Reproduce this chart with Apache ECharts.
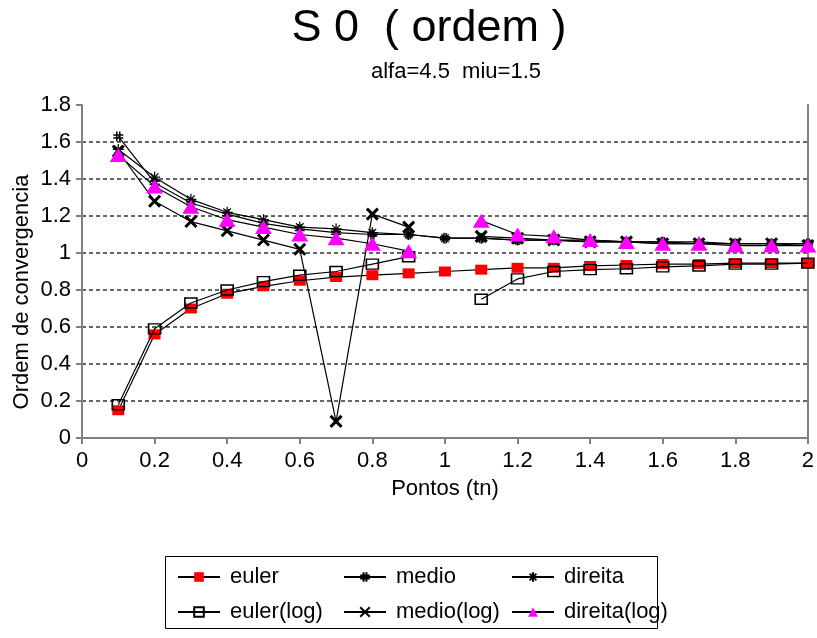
<!DOCTYPE html>
<html><head><meta charset="utf-8">
<script src="https://cdn.jsdelivr.net/npm/echarts@6/dist/echarts.min.js"></script>
<style>html,body{margin:0;padding:0;background:#fff}#c{width:817px;height:638px}</style>
</head><body><div id="c"></div>
<script>
const titleText = 'S 0  ( ordem )';
const subtitleText = 'alfa=4.5  miu=1.5';
const xName = 'Pontos (tn)';
const yName = 'Ordem de convergencia';
const xValues = [0.1,0.2,0.3,0.4,0.5,0.6,0.7,0.8,0.9,1.0,1.1,1.2,1.3,1.4,1.5,1.6,1.7,1.8,1.9,2.0];
const euler      = [0.15,0.56,0.70,0.78,0.82,0.85,0.87,0.88,0.89,0.90,0.91,0.92,0.92,0.93,0.935,0.94,0.94,0.945,0.945,0.945];
const medio      = [1.63,1.38,1.27,1.21,1.16,1.13,1.11,1.10,1.10,1.08,1.08,1.07,1.07,1.06,1.06,1.06,1.05,1.05,1.05,1.05];
const direita    = [1.56,1.41,1.29,1.22,1.18,1.14,1.13,1.11,1.10,1.08,1.08,1.07,1.07,1.07,1.06,1.06,1.06,1.05,1.05,1.05];
const eulerLog   = [0.18,0.59,0.73,0.80,0.845,0.88,0.90,0.94,0.98,null,0.75,0.86,0.90,0.91,0.915,0.925,0.93,0.94,0.94,0.945];
const medioLog   = [1.55,1.28,1.17,1.12,1.07,1.02,0.09,1.21,1.14,null,1.09,1.08,1.07,1.06,1.06,1.05,1.05,1.05,1.05,1.04];
const direitaLog = [1.53,1.36,1.25,1.18,1.14,1.10,1.08,1.05,1.01,null,1.175,1.10,1.09,1.07,1.06,1.05,1.05,1.04,1.04,1.04];

const FONT = 'Liberation Sans, Arial, sans-serif';
const FS = 22;
const zip = arr => xValues.map((x,i)=>[x, arr[i]]);
const lineStyle = {color:'#000', width:1.2};

const symHash = 'path://M3.5,0L3.5,10M6.5,0L6.5,10M0,3.5L10,3.5M0,6.5L10,6.5';
const symStar = 'path://M0,5L10,5M5,0L5,10M1.5,1.5L8.5,8.5M8.5,1.5L1.5,8.5';
const symX = 'path://M0,0L10,10M10,0L0,10';

function mk(name, data, symbol, size, itemStyle, z){
  return {name, type:'line', data:zip(data), symbol, symbolSize:size, showAllSymbol:true,
    lineStyle, itemStyle, z, connectNulls:false, animation:false, emphasis:{disabled:true}};
}
const series = [
  mk('euler', euler, 'rect', [12,10], {color:'#ff0000', borderColor:'#ff0000', borderWidth:0}, 2),
  mk('medio', medio, symHash, 10, {color:'transparent', borderColor:'#000', borderWidth:1.5}, 3),
  mk('direita', direita, symStar, 11, {color:'transparent', borderColor:'#000', borderWidth:1.2}, 4),
  mk('euler(log)', eulerLog, 'rect', [12,10], {color:'transparent', borderColor:'#000', borderWidth:1.5}, 5),
  mk('medio(log)', medioLog, symX, 11, {color:'transparent', borderColor:'#000', borderWidth:3}, 6),
  mk('direita(log)', direitaLog, 'triangle', [17,14], {color:'#ff00ff', borderColor:'#ff00ff', borderWidth:0}, 7)
];

function legendCol(left, names){
  return {show:true, orient:'vertical', left, top:566, itemWidth:42, itemHeight:12, itemGap:13,
    data:names, selectedMode:false, padding:0,
    textStyle:{fontFamily:FONT, fontSize:FS, color:'#000', padding:[0,0,0,5]}};
}

const chart = echarts.init(document.getElementById('c'), null, {renderer:'canvas'});
chart.setOption({
  backgroundColor:'#fff',
  animation:false,
  grid:{left:82, right:5, top:105, bottom:200, containLabel:false},
  xAxis:{type:'value', min:0, max:2, interval:0.2, name:xName, nameLocation:'middle', nameGap:40,
    nameTextStyle:{fontFamily:FONT, fontSize:FS, color:'#000'},
    axisLine:{show:true, onZero:false, lineStyle:{color:'#808080', width:2}},
    axisTick:{show:true, inside:false, length:6, lineStyle:{color:'#808080', width:2}},
    axisLabel:{fontFamily:FONT, fontSize:FS, color:'#000', margin:12},
    splitLine:{show:false}},
  yAxis:[{type:'value', min:0, max:1.8, interval:0.2,
    axisLine:{show:true, lineStyle:{color:'#808080', width:2}},
    axisTick:{show:true, inside:false, length:6, lineStyle:{color:'#808080', width:2}},
    axisLabel:{fontFamily:FONT, fontSize:FS, color:'#000', margin:11},
    splitLine:{show:true, showMinLine:false, showMaxLine:false, lineStyle:{color:'#333', width:1.6, type:[4,3]}}},
   {type:'value', min:0, max:1.8, position:'right', axisLine:{show:true, lineStyle:{color:'#808080', width:2}},
    axisTick:{show:false}, axisLabel:{show:false}, splitLine:{show:false}}],
  legend:[legendCol(177, ['euler','euler(log)']), legendCol(343, ['medio','medio(log)']), legendCol(511, ['direita','direita(log)'])],
  graphic:[
    {type:'text', x:429, y:29, style:{text:titleText, fontFamily:FONT, fontSize:45, fill:'#000', textAlign:'center', textVerticalAlign:'middle'}},
    {type:'text', x:456, y:72, style:{text:subtitleText, fontFamily:FONT, fontSize:FS, fill:'#000', textAlign:'center', textVerticalAlign:'middle'}},
    {type:'text', x:22, y:292, rotation:Math.PI/2, style:{text:yName, fontFamily:FONT, fontSize:FS, fill:'#000', textAlign:'center', textVerticalAlign:'middle'}},
    {type:'rect', shape:{x:165.5, y:556.5, width:492, height:72}, style:{fill:'none', stroke:'#000', lineWidth:1}, z:-1}
  ],
  series
});
</script></body></html>
